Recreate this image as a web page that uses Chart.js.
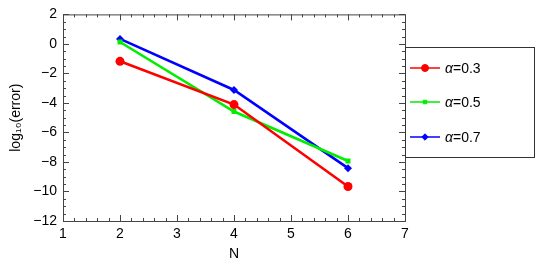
<!DOCTYPE html>
<html>
<head>
<meta charset="UTF-8">
<script src="https://cdn.jsdelivr.net/npm/chart.js@4.4.0/dist/chart.umd.min.js"></script>
<style>
  html, body { margin: 0; padding: 0; background: #fff; }
  #wrap { width: 543px; height: 264px; }
</style>
</head>
<body>
<div id="wrap"><canvas id="errChart" width="543" height="264"></canvas></div>
<script>
// data
const nValues = [2, 4, 6];
const labels = ['α=0.3', 'α=0.5', 'α=0.7'];
const err03 = [-1.18, -4.11, -9.66];
const err05 = [0.13, -4.58, -7.93];
const err07 = [0.34, -3.12, -8.42];
const xTicks = [1, 2, 3, 4, 5, 6, 7];
const yTicks = [2, 0, -2, -4, -6, -8, -10, -12];

const FONT = '"Liberation Sans", Arial, sans-serif';
const AXIS = '#444';

function pts(ys) {
  return nValues.map((n, i) => ({ x: n, y: ys[i] }));
}

// frame + inward ticks, like the original plot
const frameTicks = {
  id: 'frameTicks',
  afterDraw(chart) {
    const { ctx, chartArea: a, scales: { x, y } } = chart;
    ctx.save();
    ctx.strokeStyle = AXIS;
    ctx.lineWidth = 1;
    ctx.strokeRect(a.left + 0.5, a.top + 0.5, a.right - a.left, a.bottom - a.top);
    ctx.beginPath();
    for (let v = 1; v <= 7.001; v += 0.2) {
      const px = Math.round(x.getPixelForValue(v)) + 0.5;
      const major = Math.abs(v - Math.round(v)) < 1e-6;
      const len = major ? 6 : 3;
      ctx.moveTo(px, a.bottom); ctx.lineTo(px, a.bottom - len);
      ctx.moveTo(px, a.top); ctx.lineTo(px, a.top + len);
    }
    for (let v = -12; v <= 2.001; v += 0.5) {
      const py = Math.round(y.getPixelForValue(v)) + 0.5;
      const major = Math.abs(v / 2 - Math.round(v / 2)) < 1e-6;
      const len = major ? 6 : 3;
      ctx.moveTo(a.left, py); ctx.lineTo(a.left + len, py);
      ctx.moveTo(a.right, py); ctx.lineTo(a.right - len, py);
    }
    ctx.stroke();
    ctx.restore();
  }
};

// boxed legend to the right of the plot
const legendMarkSize = [3.5, 2.5, 3.2];
const boxLegend = {
  id: 'boxLegend',
  afterDraw(chart) {
    const { ctx, chartArea: a } = chart;
    const bx = a.right, by = 47, bw = 129, bh = 110;
    ctx.save();
    ctx.strokeStyle = '#333';
    ctx.lineWidth = 1;
    ctx.strokeRect(bx + 0.5, by + 0.5, bw, bh);
    const rows = [68, 102, 137];
    chart.data.datasets.forEach((ds, i) => {
      const ry = rows[i];
      ctx.strokeStyle = ds.borderColor;
      ctx.fillStyle = ds.borderColor;
      ctx.lineWidth = 1.5;
      ctx.beginPath();
      ctx.moveTo(bx + 5, ry); ctx.lineTo(bx + 35, ry);
      ctx.stroke();
      ctx.lineWidth = 1;
      Chart.helpers.drawPoint(ctx, {
        pointStyle: ds.pointStyle,
        radius: legendMarkSize[i],
        borderWidth: 1
      }, bx + 20, ry);
      ctx.fillStyle = '#000';
      ctx.textBaseline = 'middle';
      ctx.font = 'italic 14px ' + FONT;
      const greek = ds.label.charAt(0);
      ctx.fillText(greek, bx + 40, ry + 1);
      const w = ctx.measureText(greek).width;
      ctx.font = '14px ' + FONT;
      ctx.fillText(ds.label.slice(1), bx + 40 + w, ry + 1);
    });
    ctx.restore();
  }
};

function series(label, ys, color, style, r) {
  return {
    label: label,
    data: pts(ys),
    borderColor: color,
    backgroundColor: color,
    pointBackgroundColor: color,
    pointBorderColor: color,
    pointBorderWidth: 0,
    pointStyle: style,
    pointRadius: r,
    borderWidth: 2.6,
    tension: 0
  };
}

new Chart(document.getElementById('errChart'), {
  type: 'line',
  data: {
    datasets: [
      series(labels[0], err03, '#ff0000', 'circle', 4.5),
      series(labels[1], err05, '#00ee00', 'rect', 3.5),
      series(labels[2], err07, '#0000ff', 'rectRot', 4)
    ]
  },
  options: {
    responsive: false,
    animation: false,
    layout: { padding: { top: 10, right: 138, left: 0, bottom: 0 } },
    plugins: { legend: { display: false }, tooltip: { enabled: false } },
    scales: {
      x: {
        type: 'linear',
        min: 1, max: 7,
        afterFit: s => { s.height = 43; },
        afterBuildTicks: s => { s.ticks = xTicks.map(v => ({ value: v })); },
        grid: { display: false, drawTicks: false },
        border: { display: false },
        ticks: { padding: 5, color: '#000', font: { family: FONT, size: 14 } },
        title: { display: true, text: 'N', color: '#000', font: { family: FONT, size: 14 }, padding: { top: 0, bottom: 1 } }
      },
      y: {
        type: 'linear',
        min: -12, max: 2,
        afterFit: s => { s.width = 63; },
        afterBuildTicks: s => { s.ticks = yTicks.map(v => ({ value: v })); },
        grid: { display: false, drawTicks: false },
        border: { display: false },
        ticks: {
          padding: 6, color: '#000', font: { family: FONT, size: 14 },
          callback: v => (v < 0 ? '\u2212' + Math.abs(v) : String(v))
        },
        title: { display: true, text: 'log\u2081\u2080(error)', color: '#000', font: { family: FONT, size: 14 }, padding: { top: 8, bottom: 0 } }
      }
    }
  },
  plugins: [frameTicks, boxLegend]
});
</script>
</body>
</html>
